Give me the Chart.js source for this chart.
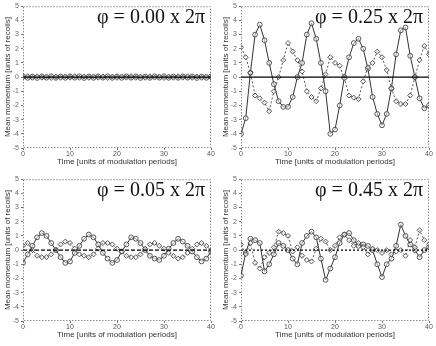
<!DOCTYPE html>
<html>
<head>
<meta charset="utf-8">
<script src="https://cdn.jsdelivr.net/npm/chart.js@4.4.1/dist/chart.umd.min.js"></script>
<style>
  html, body { margin: 0; padding: 0; background: #fff; }
  #wrap { position: relative; width: 436px; height: 346px; }
  .panel { position: absolute; width: 218px; height: 173px; }
</style>
</head>
<body>
<div id="wrap">
  <div class="panel" style="left:0;top:0"><canvas id="c1" width="218" height="173"></canvas></div>
  <div class="panel" style="left:218px;top:0"><canvas id="c2" width="218" height="173"></canvas></div>
  <div class="panel" style="left:0;top:173px"><canvas id="c3" width="218" height="173"></canvas></div>
  <div class="panel" style="left:218px;top:173px"><canvas id="c4" width="218" height="173"></canvas></div>
</div>
<script>
/* Datos: tiempo en periodos de modulación */
var tiempo = [0,1,2,3,4,5,6,7,8,9,10,11,12,13,14,15,16,17,18,19,20,
              21,22,23,24,25,26,27,28,29,30,31,32,33,34,35,36,37,38,39,40];

var fases = ["φ = 0.00 x 2π", "φ = 0.25 x 2π", "φ = 0.05 x 2π", "φ = 0.45 x 2π"];
var ticksY = [-5,-4,-3,-2,-1,0,1,2,3,4,5];
var ticksX = [0,10,20,30,40];

// phi = 0.00
var solida1 = [0.05,-0.05,0.04,-0.06,0.05,-0.04,0.06,-0.05,0.04,-0.05,0.05,-0.04,0.05,-0.06,0.04,-0.05,0.05,-0.04,0.06,-0.05,0.04,
               -0.05,0.05,-0.04,0.05,-0.06,0.04,-0.05,0.05,-0.04,0.06,-0.05,0.04,-0.05,0.05,-0.04,0.05,-0.06,0.04,-0.05,0.05];
var punteada1 = [-0.04,0.06,-0.05,0.05,-0.04,0.05,-0.06,0.04,-0.05,0.05,-0.04,0.06,-0.05,0.04,-0.05,0.05,-0.04,0.05,-0.06,0.04,-0.05,
                 0.05,-0.04,0.06,-0.05,0.04,-0.05,0.05,-0.04,0.05,-0.06,0.04,-0.05,0.05,-0.04,0.06,-0.05,0.04,-0.05,0.05,-0.04];

// phi = 0.25
var solida2 = [-4.0,-2.9,0.3,3.0,3.7,2.6,1.0,-0.5,-1.7,-2.1,-2.1,-1.4,0.0,1.0,3.0,3.8,2.7,1.0,-1.0,-4.0,-3.7,
               -2.0,0.0,1.4,2.4,2.7,2.0,0.6,-1.4,-2.6,-3.4,-2.6,-0.8,1.6,3.3,3.5,1.5,0.0,-1.5,-2.2,-2.0];
var punteada2 = [2.1,1.4,0.3,-1.3,-1.5,-1.8,-2.4,-1.0,0.0,1.2,2.4,1.8,1.2,0.4,-1.0,-1.4,-1.7,-0.8,0.2,1.4,1.0,
                 0.8,-0.1,-1.3,-1.45,-1.55,-0.3,0.7,1.0,1.8,1.4,0.5,-0.8,-1.7,-1.9,-1.9,-1.3,0.0,1.2,2.2,1.6];

// phi = 0.05
var solida3 = [-0.9,-0.3,0.3,0.9,1.2,1.0,0.5,0.0,-0.5,-0.9,-0.8,-0.2,0.3,0.8,1.1,0.9,0.4,-0.2,-0.6,-0.9,-0.7,
               -0.1,0.4,0.9,0.8,0.5,0.0,-0.4,-0.6,-0.7,-0.4,0.1,0.5,0.8,0.6,0.3,-0.1,-0.5,-0.8,-0.6,-0.1];
var punteada3 = [0.3,0.5,0.0,-0.4,-0.5,-0.5,-0.3,0.0,0.4,0.6,0.5,0.1,-0.3,-0.4,-0.5,-0.3,0.1,0.5,0.5,0.4,0.1,
                 -0.1,-0.4,-0.5,-0.5,-0.3,0.1,0.4,0.5,0.3,0.1,-0.2,-0.4,-0.6,-0.5,-0.2,0.1,0.4,0.5,0.3,0.0];

// phi = 0.45
var solida4 = [-1.8,-0.2,0.8,0.7,0.5,-1.5,-1.0,-0.3,0.5,0.3,0.0,-0.6,-1.0,0.5,1.0,1.3,0.9,-0.6,-2.1,-1.3,-0.5,
               0.5,1.1,1.2,0.7,0.3,0.4,0.3,0.0,-1.0,-1.9,-1.0,-0.6,0.3,1.8,1.0,0.4,0.0,-0.5,0.0,0.2];
var punteada4 = [0.4,-0.3,0.5,-0.9,-1.3,-0.5,-0.2,0.2,1.3,1.2,1.0,-0.1,0.2,-0.4,-0.7,-0.8,0.1,0.8,0.6,0.0,0.3,
                 0.9,1.1,0.7,0.3,0.5,0.2,-0.3,0.1,0.0,-0.2,0.0,-0.3,-0.1,0.0,-0.4,0.7,0.2,1.4,0.7,0.4];

//------------------------------------------------------------------------------------------
/* Marco punteado y etiqueta de la fase dentro del área del gráfico */
var marcoYFase = {
  id: 'marcoYFase',
  afterDatasetsDraw: function(chart, args, opts) {
    var a = chart.chartArea, c = chart.ctx;
    c.save();
    c.strokeStyle = '#555';
    c.lineWidth = 1;
    c.setLineDash([1, 2]);
    c.strokeRect(a.left + 0.5, a.top + 0.5, a.right - a.left - 1, a.bottom - a.top - 1);
    c.setLineDash([]);
    c.fillStyle = '#111';
    c.font = '20px "Liberation Serif"';
    c.textAlign = 'right';
    c.textBaseline = 'alphabetic';
    c.fillText(opts.texto, a.right - 6, a.top + 17);
    c.restore();
  }
};

function puntos(valores) {
  return tiempo.map(function(t, i) { return {x: t, y: valores[i]}; });
}

function grafico(id, texto, solida, punteada, ceroDash) {
  var ctx = document.getElementById(id).getContext('2d');
  new Chart(ctx, {
    type: 'line',
    data: {
      datasets: [{
          label: 'cero',
          data: [{x: ticksX[0], y: 0}, {x: ticksX[ticksX.length - 1], y: 0}],
          borderColor: '#000',
          borderWidth: 1.2,
          borderDash: ceroDash,
          pointRadius: 0
        }, {
          label: 'punteada',
          data: puntos(punteada),
          borderColor: '#555',
          borderWidth: 1,
          borderDash: [2, 2],
          pointStyle: 'rectRot',
          pointRadius: 2.5,
          pointBorderColor: '#444',
          pointBorderWidth: 0.9,
          pointBackgroundColor: 'rgba(255,255,255,0.5)',
          tension: 0
        }, {
          label: 'solida',
          data: puntos(solida),
          borderColor: '#333',
          borderWidth: 1,
          pointStyle: 'circle',
          pointRadius: 2.4,
          pointBorderColor: '#444',
          pointBorderWidth: 0.9,
          pointBackgroundColor: 'rgba(255,255,255,0.5)',
          tension: 0
        }
      ]
    },
    options: {
      responsive: false,
      animation: false,
      layout: { padding: { top: 6, right: 7, left: 0, bottom: 0 } },
      plugins: {
        legend: { display: false },
        tooltip: { enabled: false },
        marcoYFase: { texto: texto }
      },
      scales: {
        x: {
          type: 'linear',
          min: ticksX[0],
          max: ticksX[ticksX.length - 1],
          afterFit: function(s) { s.height = 25; },
          afterBuildTicks: function(s) { s.ticks = ticksX.map(function(v) { return {value: v}; }); },
          border: { display: false },
          grid: { display: true, drawOnChartArea: false, drawTicks: true, tickLength: 2, tickColor: '#777' },
          ticks: { padding: 0, maxRotation: 0, color: '#555', font: { size: 7, family: 'Liberation Sans' } },
          title: {
            display: true,
            text: 'Time [units of modulation periods]',
            color: '#333',
            padding: { top: 0, bottom: 6 },
            font: { size: 8, family: 'Liberation Sans' }
          }
        },
        y: {
          min: ticksY[0],
          max: ticksY[ticksY.length - 1],
          afterFit: function(s) { s.width = 23; },
          afterBuildTicks: function(s) { s.ticks = ticksY.map(function(v) { return {value: v}; }); },
          border: { display: false },
          grid: { display: true, drawOnChartArea: false, drawTicks: true, tickLength: 2, tickColor: '#777' },
          ticks: { padding: 2, color: '#666', font: { size: 7, family: 'Liberation Sans' } },
          title: {
            display: true,
            text: 'Mean momentum [units of recoils]',
            color: '#333',
            padding: { top: 3, bottom: 0 },
            font: { size: 8, family: 'Liberation Sans' }
          }
        }
      }
    },
    plugins: [marcoYFase]
  });
}

grafico('c1', fases[0], solida1, punteada1, []);
grafico('c2', fases[1], solida2, punteada2, []);
grafico('c3', fases[2], solida3, punteada3, [4, 2]);
grafico('c4', fases[3], solida4, punteada4, [2, 2]);
</script>
</body>
</html>
